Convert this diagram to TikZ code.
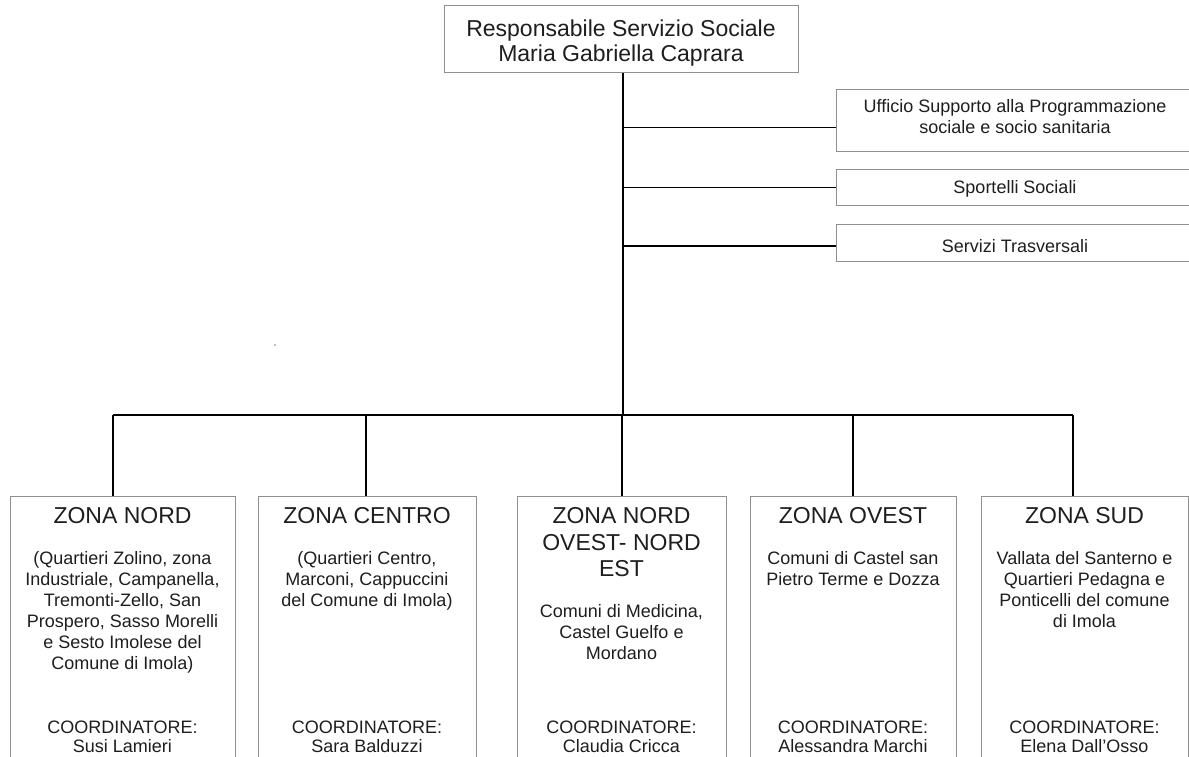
\documentclass[tikz,border=0pt]{standalone}
\usepackage{fontspec}
\setmainfont{Liberation Sans}
\definecolor{boxgray}{HTML}{8F8F8F}
\definecolor{txtgray}{HTML}{1E1E1E}
\begin{document}
\begin{tikzpicture}[x=1pt,y=-1pt,
  box/.style={draw=boxgray, line width=1pt, fill=white, inner sep=0pt, anchor=north west},
  conn/.style={draw=black, line width=1.2pt},
  txt/.style={text=txtgray, inner sep=0pt, anchor=north, align=center},
  head/.style={txt, font=\fontsize{23}{25}\selectfont},
  side/.style={txt, font=\fontsize{18}{21}\selectfont},
  ztitle/.style={txt, font=\fontsize{23}{26.7}\selectfont},
  zbody/.style={txt, font=\fontsize{18}{21}\selectfont},
  zcoord/.style={txt, font=\fontsize{18}{19}\selectfont}]
\useasboundingbox (0,0) rectangle (1189,756);
\fill[white] (0,0) rectangle (1189,756);
\clip (0,0) rectangle (1189,756);

% top box
\node[box, minimum width=354, minimum height=67] (top) at (444,5) {};
\node[head] (toptxt) at (621,18.5) {\strut Responsabile Servizio Sociale\\Maria Gabriella Caprara};

% right boxes
\node[box, minimum width=356, minimum height=62] (r1) at (836,89) {};
\node[box, minimum width=356, minimum height=36] (r2) at (836,169) {};
\node[box, minimum width=356, minimum height=37] (r3) at (836,224) {};
\node[side] (r1t) at (1015,97.8) {\strut Ufficio Supporto alla Programmazione\\sociale e socio sanitaria};
\node[side] (r2t) at (1015,178.8) {\strut Sportelli Sociali};
\node[side] (r3t) at (1015,237.5) {\strut Servizi Trasversali};

% trunk and branches
\coordinate (tr) at (623,415);
\draw[conn] (top.south -| tr) -- (tr);
\draw[conn] ([yshift=-7pt]r1.west -| tr) -- ([yshift=-7pt]r1.west);
\draw[conn] (r2.west -| tr) -- (r2.west);
\draw[conn] ([yshift=-3pt]r3.west -| tr) -- ([yshift=-3pt]r3.west);

% stray speck
\fill[gray] (275,345) circle (0.8);

% bottom boxes
\node[box, minimum width=225, minimum height=320] (b1) at (10,496) {};
\node[box, minimum width=218, minimum height=320] (b2) at (258,496) {};
\node[box, minimum width=209, minimum height=320] (b3) at (517,496) {};
\node[box, minimum width=206, minimum height=320] (b4) at (750,496) {};
\node[box, minimum width=207, minimum height=320] (b5) at (981,496) {};

\coordinate (d1) at (113,415);
\coordinate (d2) at (366,415);
\coordinate (d3) at (622,415);
\coordinate (d4) at (853,415);
\coordinate (d5) at (1073,415);
\draw[conn] (d1) -- (d5);
\foreach \i in {1,...,5} {\draw[conn] (d\i) -- (d\i |- b\i.north);}

% zone texts
\node[ztitle] (t1) at (122.5,504.5) {\strut ZONA NORD};
\node[zbody] (p1) at (122.5,549.8) {\strut (Quartieri Zolino, zona\\Industriale, Campanella,\\Tremonti-Zello, San\\Prospero, Sasso Morelli\\e Sesto Imolese del\\Comune di Imola)};
\node[zcoord] (c1) at (122.5,720.2) {\strut COORDINATORE:\\Susi Lamieri};

\node[ztitle] (t2) at (367,504.5) {\strut ZONA CENTRO};
\node[zbody] (p2) at (367,549.8) {\strut (Quartieri Centro,\\Marconi, Cappuccini\\del Comune di Imola)};
\node[zcoord] (c2) at (367,720.2) {\strut COORDINATORE:\\Sara Balduzzi};

\node[ztitle] (t3) at (621.5,504.5) {\strut ZONA NORD\\OVEST- NORD\\EST};
\node[zbody] (p3) at (621.5,602.8) {\strut Comuni di Medicina,\\Castel Guelfo e\\Mordano};
\node[zcoord] (c3) at (621.5,720.2) {\strut COORDINATORE:\\Claudia Cricca};

\node[ztitle] (t4) at (853,504.5) {\strut ZONA OVEST};
\node[zbody] (p4) at (853,549.8) {\strut Comuni di Castel san\\Pietro Terme e Dozza};
\node[zcoord] (c4) at (853,720.2) {\strut COORDINATORE:\\Alessandra Marchi};

\node[ztitle] (t5) at (1084.5,504.5) {\strut ZONA SUD};
\node[zbody] (p5) at (1084.5,549.8) {\strut Vallata del Santerno e\\Quartieri Pedagna e\\Ponticelli del comune\\di Imola};
\node[zcoord] (c5) at (1084.5,720.2) {\strut COORDINATORE:\\Elena Dall’Osso};
\end{tikzpicture}
\end{document}
